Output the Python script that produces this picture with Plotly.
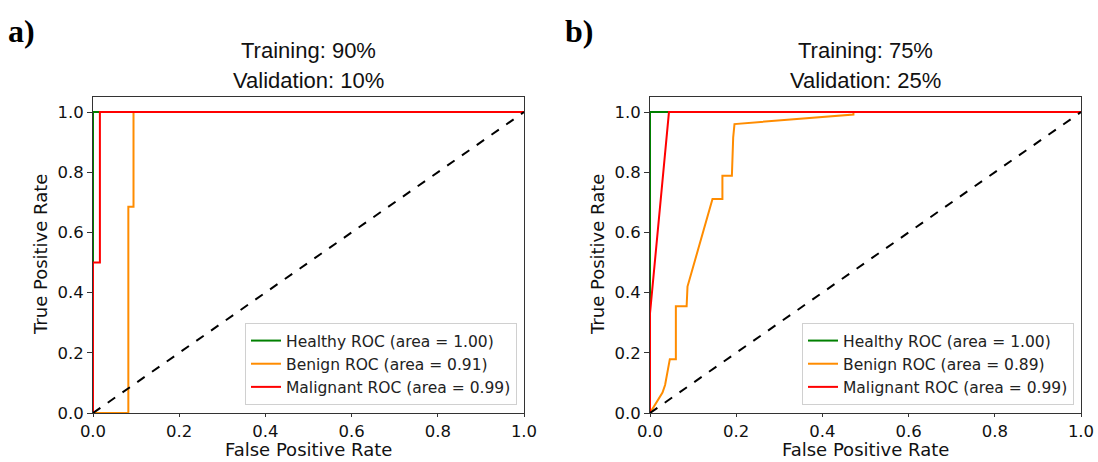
import plotly.graph_objects as go

# ROC curves, split a) training 90% / validation 10%
a_healthy_fpr = [0.0, 0.0, 1.0]
a_healthy_tpr = [0.0, 1.0, 1.0]
a_benign_fpr = [0.0, 0.082, 0.082, 0.094, 0.094, 1.0]
a_benign_tpr = [0.0, 0.0, 0.685, 0.685, 1.0, 1.0]
a_malignant_fpr = [0.0, 0.0, 0.016, 0.016, 1.0]
a_malignant_tpr = [0.0, 0.5, 0.5, 1.0, 1.0]

# ROC curves, split b) training 75% / validation 25%
b_healthy_fpr = [0.0, 0.0, 1.0]
b_healthy_tpr = [0.0, 1.0, 1.0]
b_benign_fpr = [0.0, 0.029, 0.035, 0.046, 0.060, 0.060, 0.085, 0.087, 0.145, 0.168,
                0.168, 0.190, 0.193, 0.196, 0.472, 0.472, 1.0]
b_benign_tpr = [0.0, 0.068, 0.093, 0.179, 0.179, 0.355, 0.355, 0.420, 0.711, 0.711,
                0.788, 0.788, 0.915, 0.960, 0.992, 1.0, 1.0]
b_malignant_fpr = [0.0, 0.0, 0.044, 1.0]
b_malignant_tpr = [0.0, 0.331, 1.0, 1.0]

chance = [0.0, 1.0]

panels = [
    dict(tag="a)", title1="Training: 90%", title2="Validation: 10%",
         healthy=(a_healthy_fpr, a_healthy_tpr, "1.00"),
         benign=(a_benign_fpr, a_benign_tpr, "0.91"),
         malignant=(a_malignant_fpr, a_malignant_tpr, "0.99")),
    dict(tag="b)", title1="Training: 75%", title2="Validation: 25%",
         healthy=(b_healthy_fpr, b_healthy_tpr, "1.00"),
         benign=(b_benign_fpr, b_benign_tpr, "0.89"),
         malignant=(b_malignant_fpr, b_malignant_tpr, "0.99")),
]

W, H = 1098, 462
x_domains = [[93 / W, 524 / W], [650 / W, 1081 / W]]
y_domain = [1 - 413 / H, 1 - 97 / H]

tick_font = dict(family="DejaVu Sans", size=16.5, color="#111")
label_font = dict(family="DejaVu Sans", size=18, color="#111")
title_font = dict(family="Liberation Sans, Arial", size=22, color="#111")

fig = go.Figure()
annotations = []

for i, p in enumerate(panels):
    xa = "x" if i == 0 else "x2"
    ya = "y" if i == 0 else "y2"
    lg = "legend" if i == 0 else "legend2"
    series = [("Healthy", p["healthy"], "green"),
              ("Benign", p["benign"], "darkorange"),
              ("Malignant", p["malignant"], "red")]
    for name, (fx, ty, area), color in series:
        fig.add_trace(go.Scatter(
            x=fx, y=ty, mode="lines", xaxis=xa, yaxis=ya, legend=lg,
            name=f"{name} ROC (area = {area})",
            line=dict(color=color, width=2),
        ))
    fig.add_trace(go.Scatter(
        x=chance, y=chance, mode="lines", xaxis=xa, yaxis=ya, showlegend=False,
        line=dict(color="black", width=2, dash="dash"),
    ))

    cx = (x_domains[i][0] + x_domains[i][1]) / 2
    annotations += [
        dict(text=p["title1"], x=cx, y=1 - 50 / H, xref="paper", yref="paper",
             xanchor="center", yanchor="middle", showarrow=False, font=title_font),
        dict(text=p["title2"], x=cx, y=1 - 80 / H, xref="paper", yref="paper",
             xanchor="center", yanchor="middle", showarrow=False, font=title_font),
        dict(text=f"<b>{p['tag']}</b>", x=(6 if i == 0 else 563) / W, y=1 - 31 / H,
             xref="paper", yref="paper", xanchor="left", yanchor="middle",
             showarrow=False,
             font=dict(family="Liberation Serif, Times New Roman", size=32, color="black")),
        # axis titles placed explicitly
        dict(text="False Positive Rate", x=cx, y=0, xref="paper", yref="paper",
             xanchor="center", yanchor="bottom", showarrow=False, font=label_font),
        dict(text="True Positive Rate", x=(x_domains[i][0] * W - 53) / W, y=1 - 255 / H,
             xref="paper", yref="paper", xanchor="center", yanchor="middle",
             textangle=-90, showarrow=False, font=label_font),
    ]

axis_common = dict(showgrid=False, zeroline=False, showline=True, mirror=True,
                   linecolor="#333", linewidth=1, ticks="outside", ticklen=3,
                   tickcolor="#333", tickfont=tick_font, tickformat=".1f",
                   automargin=False)

for i in range(2):
    sfx = "" if i == 0 else "2"
    fig.update_layout(**{
        f"xaxis{sfx}": dict(axis_common, domain=x_domains[i], range=[0, 1],
                            tickvals=[0, 0.2, 0.4, 0.6, 0.8, 1.0],
                            anchor=f"y{sfx}"),
        f"yaxis{sfx}": dict(axis_common, domain=y_domain, range=[0, 1.05],
                            tickvals=[0, 0.2, 0.4, 0.6, 0.8, 1.0],
                            anchor=f"x{sfx}", ticklen=5),
    })

legend_common = dict(xanchor="right", yanchor="bottom", bgcolor="rgba(255,255,255,0.85)",
                     bordercolor="#d0d0d0", borderwidth=1,
                     font=dict(family="DejaVu Sans", size=15.5, color="#222"),
                     tracegroupgap=0)
fig.update_layout(
    width=W, height=H, margin=dict(l=0, r=0, t=0, b=0),
    paper_bgcolor="white", plot_bgcolor="white",
    annotations=annotations,
    legend=dict(legend_common, x=517 / W, y=1 - 405 / H),
    legend2=dict(legend_common, x=1074 / W, y=1 - 405 / H),
)

fig.write_html("out.html")
